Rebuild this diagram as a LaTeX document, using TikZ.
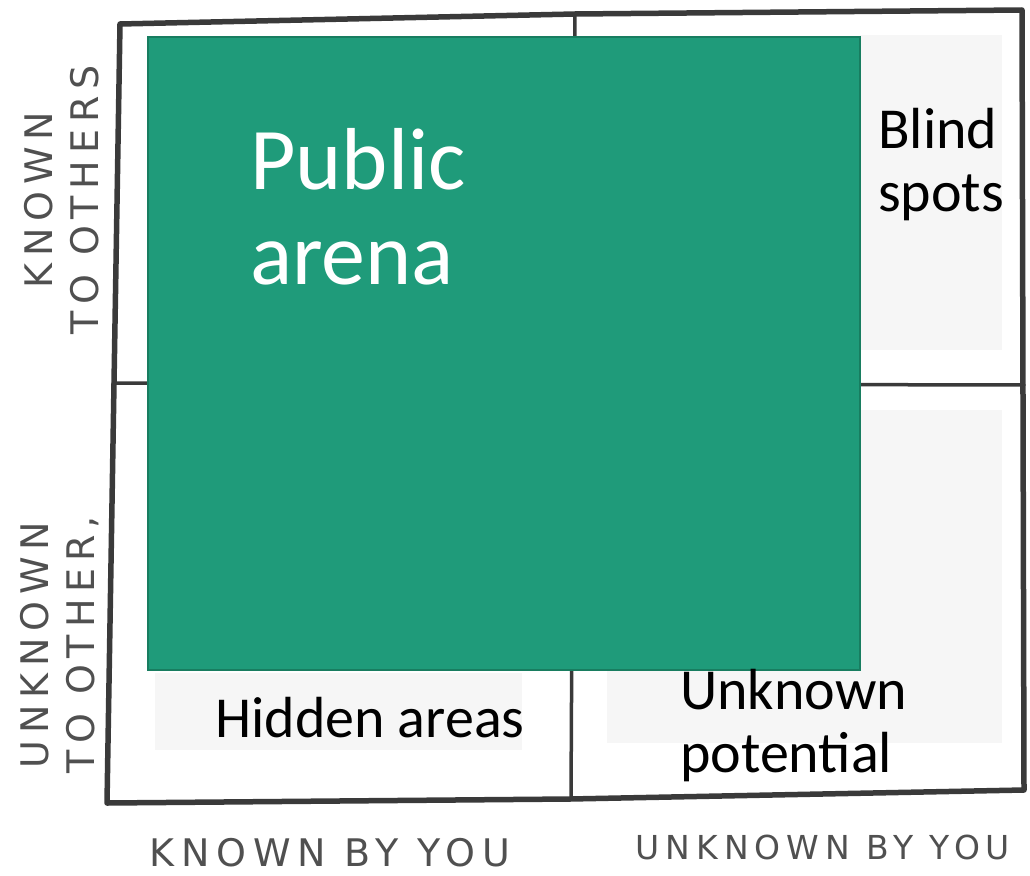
\documentclass[tikz,border=0pt]{standalone}
\usepackage{fontspec}
\setmainfont{Carlito}
\newfontfamily\axisfont[LetterSpace=18]{DejaVu Sans}
\usetikzlibrary{positioning}
\definecolor{arenagreen}{RGB}{31,155,122}
\definecolor{arenaedge}{RGB}{24,125,96}
\definecolor{paneshade}{RGB}{246,246,246}
\definecolor{pencil}{RGB}{58,58,58}
\definecolor{axisgray}{RGB}{80,80,80}

\begin{document}
\begin{tikzpicture}[x=1pt,y=-1pt]
  \tikzstyle{frame}=[draw=pencil,line width=5.5pt,line join=round,line cap=round]
  \tikzstyle{divider}=[draw=pencil,line width=3.5pt,line cap=round]
  \tikzstyle{pane}=[fill=paneshade,draw=none]
  \tikzstyle{quad}=[font=\fontsize{58}{63}\selectfont,align=left,anchor=north west,inner sep=0pt]
  \tikzstyle{axis}=[font=\axisfont\fontsize{38}{46}\selectfont,text=axisgray,inner sep=0pt]
  \useasboundingbox (0,0) rectangle (1030,875);
  % frame and dividers
  \draw[frame] (120,24) -- (575,14) -- (1022,10) -- (1024,790) -- (570,799) -- (107,803) -- cycle;
  \draw[divider] (575,14) -- (571,799);
  \draw[divider] (113,383) -- (1024,385);
  % shaded panes
  \fill[pane] (860,35) rectangle (1002,350);
  \fill[pane] (607,410) rectangle (1002,743);
  \fill[pane] (155,673) rectangle (522,750);
  % public arena
  \filldraw[fill=arenagreen,draw=arenaedge,line width=1.5pt] (148,37) rectangle (860,670);
  \node[quad,text=white,font=\fontsize{88}{95}\selectfont] (public) at (250,128) {Public\\arena};
  \node[quad] (blind) at (878,108) {Blind\\spots};
  \node[quad] (hidden) at (215,697) {Hidden areas};
  \node[quad] (unknown) at (680,669) {Unknown\\potential};
  % axis labels
  \node[axis] (knownby) at (330,853) {KNOWN BY YOU};
  \node[axis,font=\axisfont\fontsize{33}{40}\selectfont] (unknownby) at (823,847) {UNKNOWN BY YOU};
  \node[axis,rotate=90,align=center] (knownto) at (62,200) {KNOWN\\TO OTHERS};
  \node[axis,rotate=90,align=center] (unknownto) at (60,645) {UNKNOWN\\TO OTHER,};
\end{tikzpicture}
\end{document}
